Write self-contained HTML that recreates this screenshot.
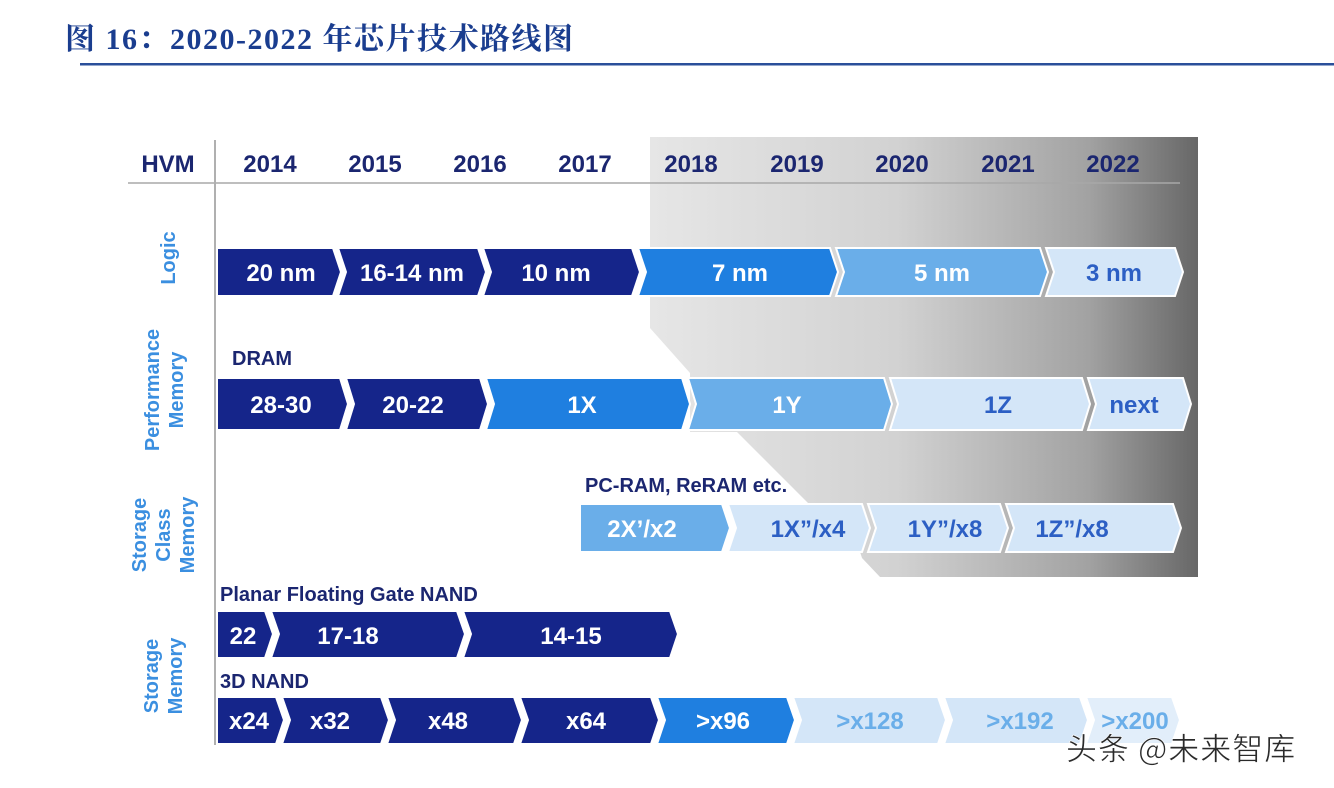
<!DOCTYPE html>
<html><head><meta charset="utf-8"><style>
html,body{margin:0;padding:0;background:#fff;}
svg{display:block;}
.t{font-family:"Liberation Sans","Noto Sans CJK SC",sans-serif;font-weight:bold;}
</style></head><body>
<svg width="1334" height="788" viewBox="0 0 1334 788" xmlns="http://www.w3.org/2000/svg">
<defs>
<linearGradient id="g" x1="650" y1="0" x2="1198" y2="0" gradientUnits="userSpaceOnUse">
<stop offset="0" stop-color="#e6e6e6"/><stop offset="0.45" stop-color="#d2d2d2"/><stop offset="0.8" stop-color="#a2a2a2"/><stop offset="1" stop-color="#676767"/>
</linearGradient>
</defs>
<text x="65" y="49" font-family="'Liberation Serif','Noto Serif CJK SC',serif" font-weight="bold" font-size="30" letter-spacing="1.5" fill="#1a3d8f">图 16：2020-2022 年芯片技术路线图</text>
<rect x="80" y="63" width="1254" height="2.5" fill="#2a4f9a"/>
<polygon points="650,137 1198,137 1198,577 880,577 862,558 845,505 810,505 737,432 690,432 690,373 650,328" fill="url(#g)"/>
<line x1="128" y1="183" x2="1180" y2="183" stroke="#a8a8a8" stroke-width="1.5"/>
<line x1="215" y1="140" x2="215" y2="745" stroke="#b0b0b0" stroke-width="2"/>
<g class="t" font-size="24" fill="#1b2670" text-anchor="middle">
<text x="168" y="172">HVM</text><text x="270" y="172">2014</text><text x="375" y="172">2015</text><text x="480" y="172">2016</text><text x="585" y="172">2017</text><text x="691" y="172">2018</text><text x="797" y="172">2019</text><text x="902" y="172">2020</text><text x="1008" y="172">2021</text><text x="1113" y="172">2022</text>
</g>
<g class="t" font-size="20" fill="#3b8fe0" text-anchor="middle">
<text transform="translate(175,258) rotate(-90)">Logic</text>
<text transform="translate(159,390) rotate(-90)">Performance</text>
<text transform="translate(183,390) rotate(-90)">Memory</text>
<text transform="translate(146,535) rotate(-90)">Storage</text>
<text transform="translate(170,535) rotate(-90)">Class</text>
<text transform="translate(194,535) rotate(-90)">Memory</text>
<text transform="translate(158,676) rotate(-90)">Storage</text>
<text transform="translate(182,676) rotate(-90)">Memory</text>
</g>
<g stroke="#fff" stroke-width="2">
<polygon points="217,248 333,248 341,272 333,296 217,296" fill="#15258a"/>
<polygon points="338,248 478,248 486,272 478,296 338,296 346,272" fill="#15258a"/>
<polygon points="483,248 632,248 640,272 632,296 483,296 491,272" fill="#15258a"/>
<polygon points="638,248 830,248 838,272 830,296 638,296 646,272" fill="#1f7fe0"/>
<polygon points="836,248 1040,248 1048,272 1040,296 836,296 844,272" fill="#6aaee9"/>
<polygon points="1046,248 1175,248 1183,272 1175,296 1046,296 1054,272" fill="#d4e6f8"/>
<polygon points="217,378 340,378 348,404 340,430 217,430" fill="#15258a"/>
<polygon points="346,378 480,378 488,404 480,430 346,430 354,404" fill="#15258a"/>
<polygon points="486,378 682,378 690,404 682,430 486,430 494,404" fill="#1f7fe0"/>
<polygon points="688,378 884,378 892,404 884,430 688,430 696,404" fill="#6aaee9"/>
<polygon points="890,378 1082,378 1090,404 1082,430 890,430 898,404" fill="#d4e6f8"/>
<polygon points="1088,378 1183,378 1191,404 1183,430 1088,430 1096,404" fill="#d4e6f8"/>
<polygon points="580,504 722,504 730,528 722,552 580,552" fill="#6aaee9"/>
<polygon points="728,504 862,504 870,528 862,552 728,552 736,528" fill="#d4e6f8"/>
<polygon points="868,504 1000,504 1008,528 1000,552 868,552 876,528" fill="#d4e6f8"/>
<polygon points="1006,504 1173,504 1181,528 1173,552 1006,552 1014,528" fill="#d4e6f8"/>
<polygon points="217,611 265,611 273,634 265,658 217,658" fill="#15258a"/>
<polygon points="271,611 457,611 465,634 457,658 271,658 279,634" fill="#15258a"/>
<polygon points="463,611 670,611 678,634 670,658 463,658 471,634" fill="#15258a"/>
<polygon points="217,697 276,697 284,720 276,744 217,744" fill="#15258a"/>
<polygon points="282,697 381,697 389,720 381,744 282,744 290,720" fill="#15258a"/>
<polygon points="387,697 514,697 522,720 514,744 387,744 395,720" fill="#15258a"/>
<polygon points="520,697 651,697 659,720 651,744 520,744 528,720" fill="#15258a"/>
<polygon points="657,697 787,697 795,720 787,744 657,744 665,720" fill="#1f7fe0"/>
<polygon points="793,697 938,697 946,720 938,744 793,744 801,720" fill="#d4e6f8"/>
<polygon points="944,697 1080,697 1088,720 1080,744 944,744 952,720" fill="#d4e6f8"/>
<polygon points="1086,697 1172,697 1180,720 1172,744 1086,744 1094,720" fill="#e2eefa"/>
</g>
<g class="t" font-size="24" text-anchor="middle" fill="#fff">
<text x="281" y="281">20 nm</text><text x="412" y="281">16-14 nm</text><text x="556" y="281">10 nm</text><text x="740" y="281">7 nm</text><text x="942" y="281">5 nm</text>
<text x="281" y="413">28-30</text><text x="413" y="413">20-22</text><text x="582" y="413">1X</text><text x="787" y="413">1Y</text>
<text x="642" y="537">2X’/x2</text>
<text x="243" y="644">22</text><text x="348" y="644">17-18</text><text x="571" y="644">14-15</text>
<text x="249" y="729">x24</text><text x="330" y="729">x32</text><text x="448" y="729">x48</text><text x="586" y="729">x64</text><text x="723" y="729">&gt;x96</text>
</g>
<g class="t" font-size="24" text-anchor="middle" fill="#2c5fc4">
<text x="1114" y="281">3 nm</text>
<text x="998" y="413">1Z</text><text x="1134" y="413">next</text>
<text x="808" y="537">1X”/x4</text><text x="945" y="537">1Y”/x8</text><text x="1072" y="537">1Z”/x8</text>
<text x="870" y="729" fill="#6aaee9">&gt;x128</text><text x="1020" y="729" fill="#6aaee9">&gt;x192</text><text x="1135" y="729" fill="#6aaee9">&gt;x200</text>
</g>
<g class="t" font-size="20" fill="#1b2670">
<text x="232" y="365">DRAM</text>
<text x="585" y="492">PC-RAM, ReRAM etc.</text>
<text x="220" y="601">Planar Floating Gate NAND</text>
<text x="220" y="688">3D NAND</text>
</g>
<text x="1066" y="760" font-family="'Noto Sans CJK SC','Liberation Sans',sans-serif" font-size="31" letter-spacing="1" fill="#2a2a2a" stroke="#fff" stroke-width="0.6">头条 @未来智库</text>
</svg>
</body></html>
